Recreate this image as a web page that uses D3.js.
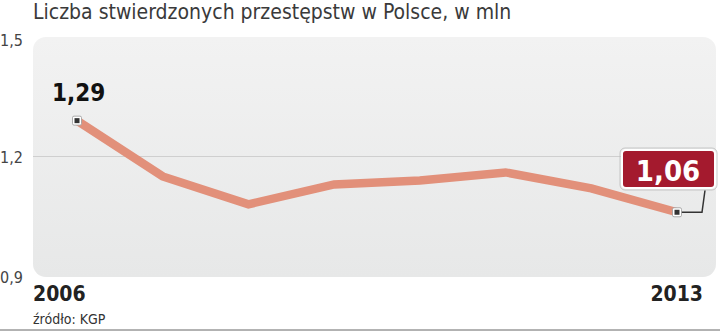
<!DOCTYPE html>
<html><head><meta charset="utf-8">
<script src="https://cdn.jsdelivr.net/npm/d3@7"></script>
<style>
body{margin:0;background:#fff;}
svg{display:block;font-family:"DejaVu Sans Condensed","Liberation Sans Narrow",sans-serif;}
</style></head><body>
<svg id="c" width="720" height="331"></svg>
<script>
const years = [2006,2007,2008,2009,2010,2011,2012,2013];
const values = [1.29,1.15,1.08,1.13,1.14,1.16,1.12,1.06];
const yTicks = [0.9,1.2,1.5];
const xTickYears = [2006,2013];
const title = "Liczba stwierdzonych przestępstw w Polsce, w mln";
const source = "źródło: KGP";

const svg = d3.select("#c");
const fmt = v => String(v).replace(".", ",");
const fmt2 = v => v.toFixed(2).replace(".", ",");

const panel = {x0:33, x1:716, y0:37, y1:277};
const x = d3.scaleLinear().domain([2006,2013]).range([77,677]);
const y = d3.scaleLinear().domain([0.9,1.5]).range([276,37]);

const defs = svg.append("defs");
const g = defs.append("linearGradient").attr("id","bg").attr("x1",0).attr("y1",0).attr("x2",0).attr("y2",1);
g.append("stop").attr("offset","0%").attr("stop-color","#f2f2f2");
g.append("stop").attr("offset","100%").attr("stop-color","#e7e8e8");

svg.append("rect").attr("x",panel.x0).attr("y",panel.y0)
  .attr("width",panel.x1-panel.x0).attr("height",panel.y1-panel.y0)
  .attr("rx",13).attr("fill","url(#bg)");

svg.append("text").attr("x",33).attr("y",19).attr("font-size",21).attr("fill","#3a3a3a")
  .attr("font-weight",300).text(title);

// gridline at 1.2
svg.append("line").attr("x1",panel.x0).attr("x2",panel.x1)
  .attr("y1",y(1.2)).attr("y2",y(1.2)).attr("stroke","#cfcfcf").attr("stroke-width",1.2);

// y tick labels
svg.selectAll(".yt").data(yTicks).join("text")
  .attr("x",0).attr("y",d=> d===1.5? 46 : d===0.9 ? 283 : y(d)+6)
  .attr("font-size",16).attr("fill","#444").text(fmt);

// x labels
svg.selectAll(".xt").data(xTickYears).join("text")
  .attr("x",d=> d===2006?33:703).attr("y",301)
  .attr("text-anchor",d=> d===2006?"start":"end")
  .attr("font-size",21).attr("font-weight","bold").attr("fill","#222").text(d=>d);

svg.append("text").attr("x",33).attr("y",324).attr("font-size",14).attr("fill","#333").text(source);

// line
const line = d3.line().x((d,i)=>x(years[i])).y(d=>y(d));
svg.append("path").datum(values).attr("d",line).attr("fill","none")
  .attr("stroke","#e2907a").attr("stroke-width",8.5).attr("stroke-linejoin","miter");

// connector for last
const lx = x(years[7]), ly = y(values[7]);
svg.append("path").attr("d",`M${lx},${ly} H${lx+25} L${lx+28},${ly-22}`)
  .attr("fill","none").attr("stroke","#333").attr("stroke-width",1.5);

// markers
[0,7].forEach(i=>{
  const cx = x(years[i]), cy = y(values[i]);
  svg.append("rect").attr("x",cx-4.5).attr("y",cy-4.5).attr("width",9).attr("height",9)
    .attr("rx",1.5).attr("fill","#fff").attr("stroke","#999").attr("stroke-width",0.8);
  svg.append("rect").attr("x",cx-2.5).attr("y",cy-2.5).attr("width",5).attr("height",5).attr("fill","#333");
});

// label first
svg.append("text").attr("x",52).attr("y",101).attr("font-size",24).attr("font-weight","bold")
  .attr("fill","#111").text(fmt2(values[0]));

// label last box
svg.append("rect").attr("x",622).attr("y",150).attr("width",93).attr("height",38).attr("rx",4)
  .attr("fill","#a41a2e").attr("stroke","#fff").attr("stroke-width",2);
svg.append("rect").attr("x",620).attr("y",148).attr("width",97).attr("height",42).attr("rx",5)
  .attr("fill","none").attr("stroke","#bbb").attr("stroke-width",0.8);
svg.append("text").attr("x",668).attr("y",181).attr("text-anchor","middle").attr("font-size",29)
  .attr("font-weight","bold").attr("fill","#fff").text(fmt2(values[7]));

svg.append("line").attr("x1",0).attr("x2",720).attr("y1",330).attr("y2",330).attr("stroke","#666").attr("stroke-width",1);
</script></body></html>
